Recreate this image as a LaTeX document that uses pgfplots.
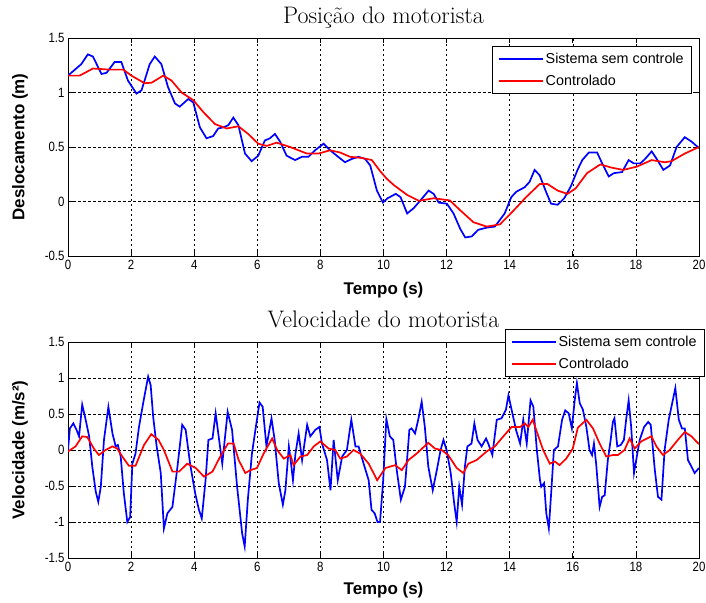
\documentclass[border=0pt]{standalone}
\usepackage{pgfplots}
\pgfplotsset{compat=1.18}
\usepackage{fontspec}
\newfontfamily\arialfont{Liberation Sans}
\newfontfamily\ticksfont{Liberation Sans}[FakeStretch=0.85]

\pgfplotstableread{
t v
0 1.155
0.42 1.26
0.63 1.35
0.79 1.33
1.06 1.17
1.22 1.18
1.48 1.28
1.69 1.28
1.9 1.11
2.17 0.99
2.33 1.02
2.59 1.26
2.75 1.33
2.96 1.26
3.17 1.05
3.39 0.90
3.54 0.87
3.81 0.94
3.97 0.91
4.18 0.68
4.39 0.58
4.6 0.60
4.76 0.67
4.92 0.68
5.08 0.70
5.24 0.77
5.4 0.70
5.61 0.44
5.82 0.37
6.03 0.42
6.24 0.56
6.4 0.58
6.56 0.62
6.72 0.55
6.93 0.42
7.2 0.38
7.41 0.41
7.62 0.41
7.83 0.47
8.1 0.53
8.31 0.47
8.52 0.42
8.78 0.36
8.99 0.39
9.21 0.41
9.42 0.39
9.58 0.33
9.79 0.10
9.98 -0.01
10.13 0.03
10.39 0.07
10.54 0.04
10.75 -0.11
10.96 -0.06
11.17 0.01
11.43 0.10
11.59 0.07
11.75 -0.01
12.01 -0.02
12.22 -0.11
12.43 -0.25
12.59 -0.33
12.8 -0.32
13.0 -0.26
13.27 -0.24
13.53 -0.23
13.84 -0.11
14.05 0.04
14.21 0.09
14.47 0.13
14.63 0.18
14.79 0.29
14.95 0.24
15.15 0.09
15.31 -0.02
15.52 -0.03
15.73 0.03
15.94 0.14
16.15 0.29
16.3 0.38
16.51 0.45
16.77 0.45
16.93 0.35
17.14 0.23
17.3 0.26
17.56 0.27
17.77 0.38
17.93 0.35
18.14 0.35
18.29 0.39
18.5 0.46
18.66 0.39
18.87 0.29
19.08 0.33
19.29 0.50
19.55 0.59
19.76 0.55
20 0.49
}\posblue

\pgfplotstableread{
t v
0 1.155
0.37 1.155
0.79 1.22
1.32 1.21
1.75 1.21
2.01 1.155
2.43 1.085
2.65 1.09
3.02 1.155
3.28 1.11
3.6 1.00
3.97 0.93
4.29 0.82
4.66 0.71
5.03 0.67
5.4 0.69
5.71 0.62
6.03 0.53
6.3 0.51
6.61 0.54
7.04 0.50
7.57 0.44
7.94 0.44
8.31 0.47
8.62 0.45
8.94 0.41
9.31 0.40
9.63 0.38
9.89 0.28
10.1 0.21
10.33 0.15
10.75 0.06
11.12 0.006
11.59 0.03
12.1 0.01
12.43 -0.08
12.85 -0.19
13.27 -0.23
13.69 -0.21
14.1 -0.09
14.52 0.04
14.95 0.16
15.2 0.16
15.52 0.10
15.83 0.07
16.09 0.12
16.45 0.26
16.87 0.34
17.24 0.31
17.6 0.29
18.03 0.32
18.5 0.38
18.92 0.36
19.13 0.37
19.55 0.44
20 0.50
}\posred

\pgfplotstableread{
t v
0 0
0.06 0.30
0.17 0.37
0.27 0.28
0.35 0.19
0.45 0.63
0.56 0.42
0.67 0.19
0.77 -0.23
0.88 -0.58
0.96 -0.72
1.04 -0.51
1.14 0.14
1.28 0.60
1.41 0.23
1.51 0.05
1.58 0.07
1.67 -0.09
1.77 -0.60
1.88 -1.00
1.97 -0.93
2.04 -0.19
2.14 -0.05
2.25 0.32
2.39 0.67
2.54 1.02
2.62 0.90
2.7 0.46
2.81 0.05
2.94 -0.32
3.04 -1.09
3.15 -0.88
3.31 -0.79
3.47 -0.23
3.62 0.35
3.73 0.28
3.87 -0.19
4.03 -0.60
4.15 -0.83
4.24 -0.95
4.36 -0.42
4.45 0.14
4.58 0.16
4.68 0.51
4.79 0.14
4.89 -0.19
5.06 0.53
5.2 0.28
5.36 -0.51
5.52 -1.16
5.6 -1.34
5.7 -0.69
5.83 -0.05
5.94 0.28
6.07 0.66
6.17 0.60
6.29 0.05
6.45 0.44
6.55 0.14
6.68 -0.46
6.81 -0.76
6.89 -0.56
7.0 0.05
7.07 -0.19
7.13 -0.42
7.21 -0.05
7.31 0.23
7.42 -0.14
7.58 0.35
7.68 0.19
7.84 0.28
7.97 0.32
8.05 0.09
8.21 -0.14
8.32 -0.56
8.42 0.14
8.55 -0.42
8.69 -0.09
8.84 0.0
8.98 0.42
9.11 0.05
9.21 0.05
9.37 -0.19
9.53 -0.42
9.62 -0.83
9.72 -0.88
9.81 -1.0
9.89 -1.0
9.99 -0.42
10.09 0.43
10.2 0.19
10.31 0.14
10.42 -0.28
10.55 -0.69
10.68 -0.51
10.82 0.28
10.89 0.30
11.0 0.23
11.1 0.42
11.21 0.67
11.31 0.32
11.42 -0.23
11.56 -0.56
11.69 -0.28
11.81 0
11.9 0.14
12.0 0
12.13 -0.32
12.24 -0.74
12.32 -1.0
12.4 -0.51
12.49 -0.76
12.58 -0.23
12.66 0.05
12.79 0.09
12.88 0.37
12.98 0.14
13.11 0.05
13.25 0.16
13.32 0.09
13.45 -0.07
13.59 0.42
13.74 0.44
13.88 0.56
13.96 0.76
14.06 0.56
14.2 0.28
14.33 0.09
14.43 0.42
14.54 0.09
14.66 0.69
14.75 0.60
14.86 0
14.96 -0.42
15.0 -0.51
15.09 -0.46
15.16 -0.88
15.24 -1.09
15.32 -0.56
15.4 0
15.53 0.05
15.66 0.42
15.76 0.55
15.87 0.51
15.97 0.30
16.06 0.69
16.13 0.93
16.22 0.65
16.32 0.56
16.43 0.32
16.53 0
16.61 -0.07
16.67 0.09
16.74 -0.19
16.85 -0.79
16.93 -0.65
17.01 -0.63
17.11 -0.14
17.2 0.14
17.27 0.39
17.32 0.44
17.41 0.05
17.52 0.07
17.62 0.14
17.69 0.42
17.77 0.69
17.85 0.32
17.94 -0.32
18.01 -0.14
18.12 0.14
18.26 0.32
18.39 0.39
18.47 0.35
18.6 -0.28
18.7 -0.65
18.81 -0.69
18.91 0
19.04 0.42
19.15 0.65
19.25 0.86
19.36 0.42
19.46 0.30
19.55 0.30
19.65 -0.14
19.76 -0.23
19.86 -0.32
20.0 -0.25
}\velblue

\pgfplotstableread{
t v
0 -0.02
0.24 0.05
0.45 0.19
0.61 0.18
0.82 0.02
0.98 -0.07
1.19 0
1.41 0.05
1.56 0.02
1.72 -0.09
1.93 -0.22
2.14 -0.22
2.41 0.07
2.64 0.22
2.87 0.14
3.04 0
3.31 -0.30
3.52 -0.30
3.78 -0.19
4.05 -0.25
4.31 -0.37
4.58 -0.30
4.79 -0.12
5.07 0.09
5.25 0.09
5.41 -0.14
5.62 -0.32
5.78 -0.28
5.99 -0.25
6.2 -0.05
6.47 0.16
6.63 0
6.84 -0.12
7.05 -0.07
7.15 -0.21
7.37 -0.09
7.58 -0.07
7.79 0.05
8.0 0.12
8.26 0.02
8.47 0
8.63 -0.12
8.84 -0.09
9.05 0
9.26 -0.05
9.53 -0.19
9.8 -0.42
10.06 -0.25
10.37 -0.21
10.58 -0.28
10.79 -0.14
11.05 -0.05
11.42 0.10
11.63 0.02
11.84 0
12.05 -0.07
12.32 -0.25
12.53 -0.32
12.69 -0.19
12.95 -0.14
13.27 -0.02
13.53 0.05
13.8 0.19
14.06 0.32
14.33 0.32
14.48 0.37
14.59 0.32
14.73 0.42
14.91 0.19
15.06 0
15.27 -0.19
15.43 -0.16
15.58 -0.21
15.79 -0.12
16.0 0.02
16.16 0.31
16.43 0.42
16.64 0.30
16.85 0.09
17.06 -0.09
17.27 -0.07
17.43 -0.07
17.64 0
17.8 0.16
17.96 0.02
18.17 0.12
18.49 0.19
18.65 0.05
18.86 -0.07
19.07 0
19.33 0.14
19.55 0.25
19.76 0.19
20 0.08
}\velred

\pgfplotsset{
  mlstyle/.style={
    scale only axis,
    width=631bp,
    xmin=0, xmax=20,
    xtick={0,2,...,20},
    ytick={-1.5,-1,-0.5,0,0.5,1,1.5},
    grid=major,
    major grid style={black, line width=0.6bp, dash pattern=on 2.5bp off 2.5bp},
    axis line style={black, line width=0.9bp},
    tick style={black, line width=0.7bp},
    tick align=inside,
    major tick length=5bp,
    /pgf/number format/assume math mode=true,
    ticklabel style={font=\ticksfont\fontsize{13.5}{14}\selectfont},
    xticklabel style={yshift=-1bp},
    label style={font=\arialfont\bfseries\fontsize{17}{19}\selectfont},
    title style={font=\fontsize{24}{26}\selectfont, anchor=base, at={(0.5,1)}, yshift=9bp},
    legend cell align=left,
    legend image code/.code={\draw[#1] (0bp,0bp) -- (44bp,0bp);},
    legend style={font=\arialfont\fontsize{14.4}{16}\selectfont, draw=black, line width=0.8bp,
      inner xsep=6bp, inner ysep=4.5bp, row sep=6bp, fill=white},
  }
}

\begin{document}
\begin{tikzpicture}
\useasboundingbox (0,0) rectangle (706bp,-603bp);
\begin{axis}[mlstyle,
  at={(68bp,-38bp)}, anchor=north west,
  height=218bp,
  ymin=-0.5, ymax=1.5,
  title={Posição do motorista},
  xlabel={Tempo (s)},
  ylabel={Deslocamento (m)},
  xlabel style={at={(axis description cs:0.5,-0.156)}, anchor=center},
  ylabel style={at={(axis description cs:-0.076,0.5)}, anchor=center},
  legend style={at={(0.989,0.963)}, anchor=north east},
]
\addplot[blue, line width=1.7bp, no markers] table[x=t, y=v] {\posblue};
\addlegendentry{Sistema sem controle}
\addplot[red, line width=1.7bp, no markers] table[x=t, y=v] {\posred};
\addlegendentry{Controlado}
\end{axis}

\begin{axis}[mlstyle,
  at={(68bp,-342bp)}, anchor=north west,
  height=216bp,
  ymin=-1.5, ymax=1.5,
  title={Velocidade do motorista},
  xlabel={Tempo (s)},
  ylabel={Velocidade (m/s²)},
  xlabel style={at={(axis description cs:0.5,-0.148)}, anchor=center},
  ylabel style={at={(axis description cs:-0.076,0.5)}, anchor=center},
  legend style={at={(1.0095,1.060)}, anchor=north east},
]
\addplot[blue, line width=1.7bp, no markers] table[x=t, y=v] {\velblue};
\addlegendentry{Sistema sem controle}
\addplot[red, line width=1.7bp, no markers] table[x=t, y=v] {\velred};
\addlegendentry{Controlado}
\end{axis}
\end{tikzpicture}
\end{document}
